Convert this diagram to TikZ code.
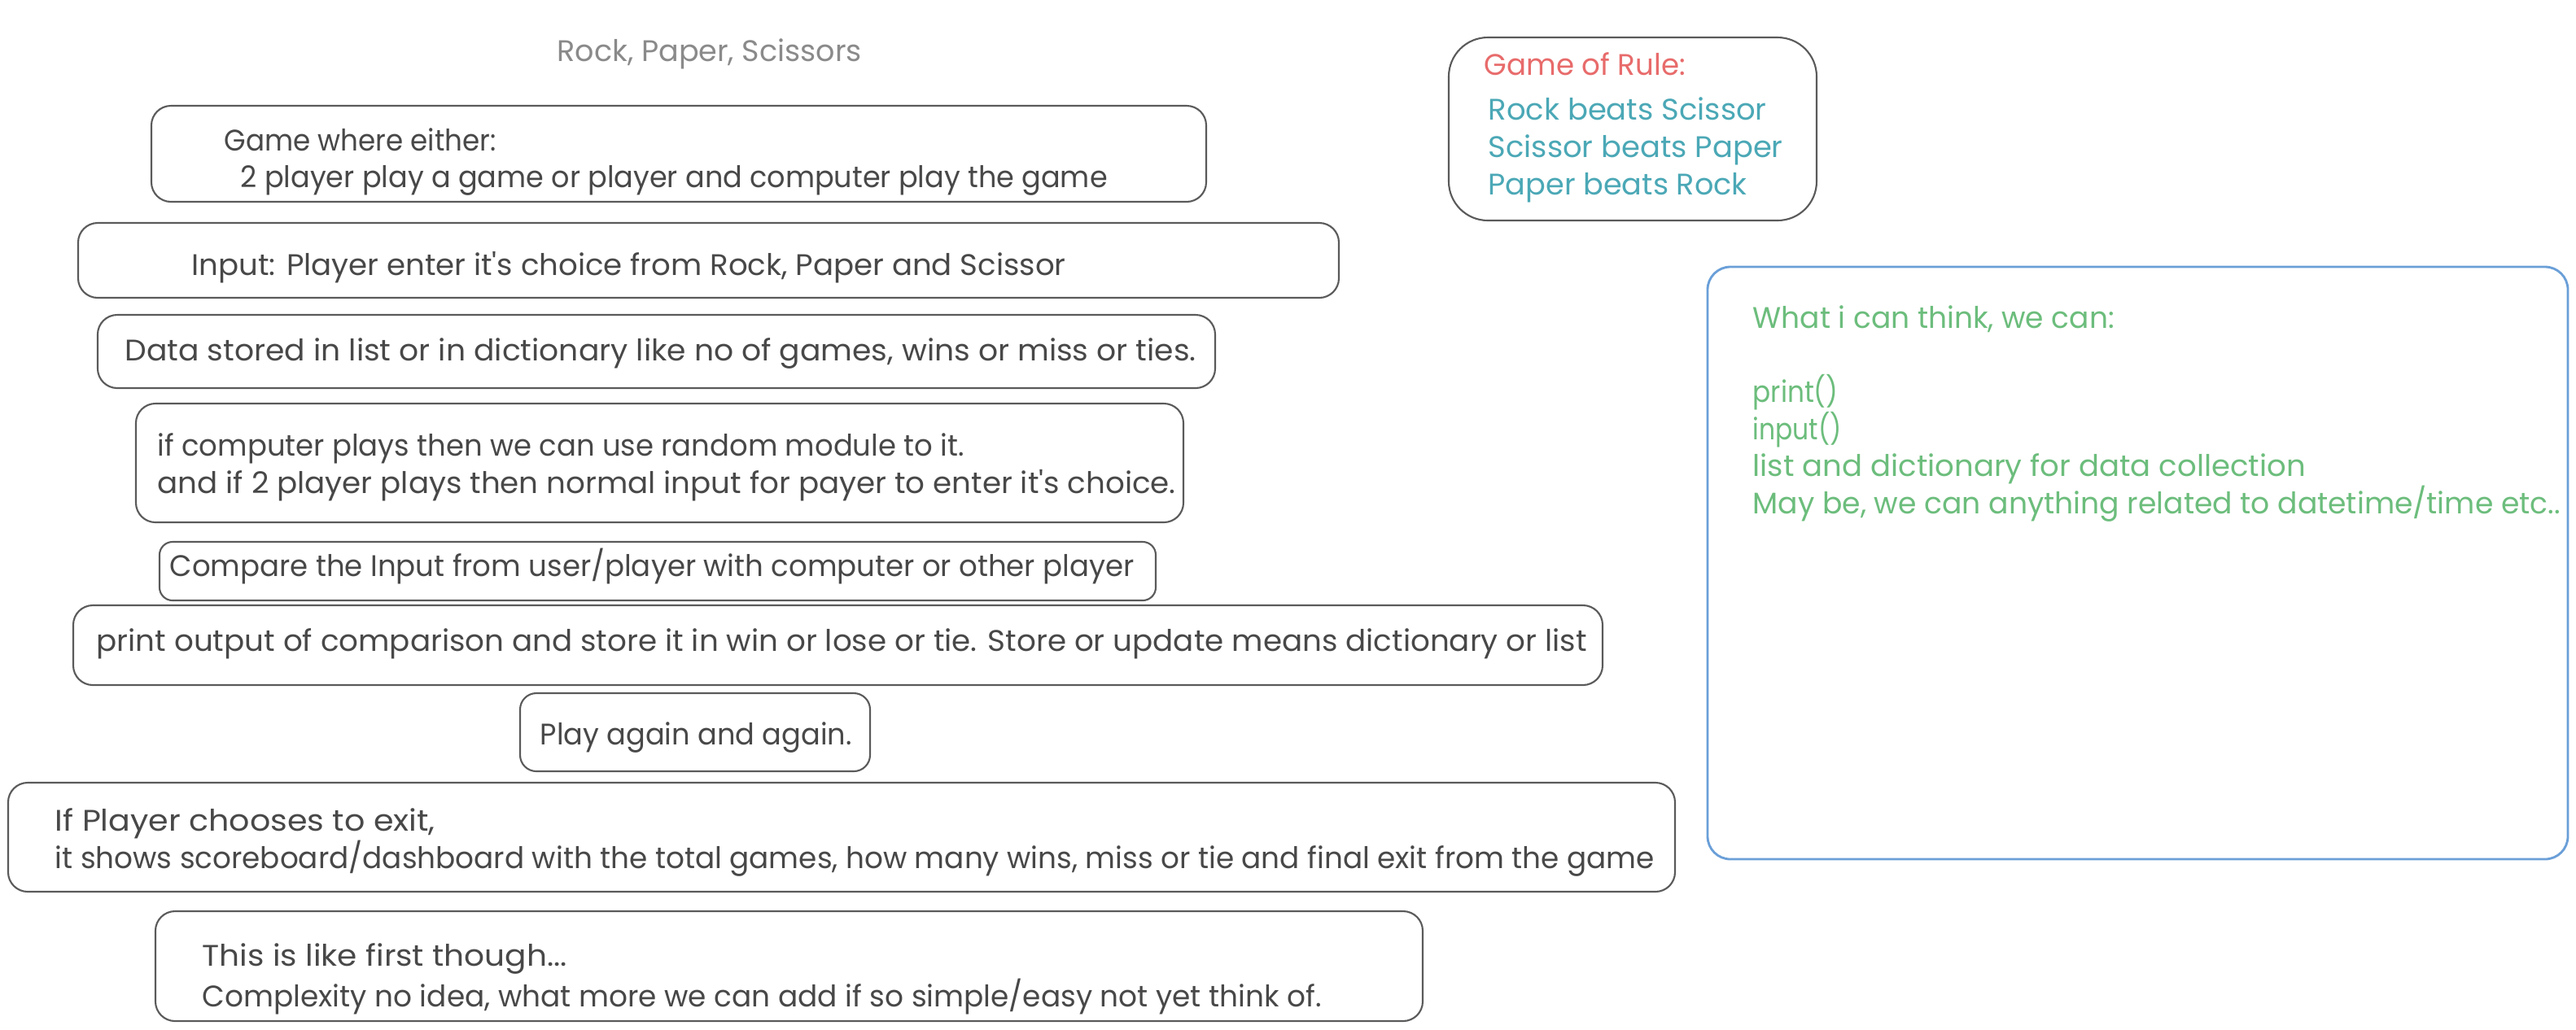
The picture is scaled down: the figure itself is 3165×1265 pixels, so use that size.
\documentclass[tikz,border=0pt]{standalone}
\usepackage{fontspec}
\setmainfont{Poppins}
\usetikzlibrary{fit}
\definecolor{ink}{HTML}{484848}
\definecolor{boxc}{HTML}{5A5A5A}
\definecolor{titlec}{HTML}{8A8A8A}
\definecolor{redc}{HTML}{E86B6B}
\definecolor{tealc}{HTML}{4BA8B6}
\definecolor{greenc}{HTML}{6CBD7C}
\definecolor{bluec}{HTML}{6A9FD8}
\newcommand{\apos}{\textquotesingle}
\newlength{\pxu}
\setlength{\pxu}{0.01cm}
\newcommand{\fw}[2]{\resizebox{#1\pxu}{\height}{#2}}
\begin{document}
\begin{tikzpicture}[x=0.01cm,y=-0.01cm,
  box/.style={draw=boxc, line width=0.6pt, inner sep=0pt, rounded corners=#1},
  box/.default=0.24cm,
  txt/.style={inner sep=0pt, anchor=base west, text=ink, font=\fontsize{10.4pt}{12pt}\selectfont},
  ttl/.style={txt, text=titlec},
  rule/.style={txt, text=redc},
  beat/.style={txt, text=tealc},
  idea/.style={txt, text=greenc}]
\fill[white] (0,0) rectangle (3165,1265);
\useasboundingbox (0,0) rectangle (3165,1265);

% title
\node[ttl] (title) at (684,75) {\fw{374}{Rock, Paper, Scissors}};

% boxes
\node[box, fit={(186,130) (1482,248)}] (b1) {};
\node[txt] (t1a) at (275,185) {\fw{334}{Game where either:}};
\node[txt] (t1b) at (295,230) {\fw{1065}{2 player play a game or player and computer play the game}};

\node[box, fit={(96,274) (1645,366)}] (b2) {};
\node[txt] (t2) at (235,338) {\fw{1074}{Input: Player enter it\apos s choice from Rock, Paper and Scissor}};

\node[box, fit={(120,387) (1493,477)}] (b3) {};
\node[txt] (t3) at (153,443) {\fw{1316}{Data stored in list or in dictionary like no of games, wins or miss or ties.}};

\node[box, fit={(167,496) (1454,642)}] (b4) {};
\node[txt] (t4a) at (193,560) {\fw{991}{if computer plays then we can use random module to it.}};
\node[txt] (t4b) at (193,606) {\fw{1251}{and if 2 player plays then normal input for payer to enter it\apos s choice.}};

\node[box=0.16cm, fit={(196,666) (1420,738)}] (b5) {};
\node[txt] (t5) at (208,708) {\fw{1185}{Compare the Input from user/player with computer or other player}};

\node[box, fit={(90,744) (1969,842)}] (b6) {};
\node[txt] (t6) at (118,800) {\fw{1831}{print output of comparison and store it in win or lose or tie. Store or update means dictionary or list}};

\node[box=0.2cm, fit={(639,852) (1069,948)}] (b7) {};
\node[txt] (t7) at (663,915) {\fw{383}{Play again and again.}};

\node[box, fit={(10,962) (2058,1096)}] (b8) {};
\node[txt] (t8a) at (67,1021) {\fw{467}{If Player chooses to exit,}};
\node[txt] (t8b) at (67,1067) {\fw{1965}{it shows scoreboard/dashboard with the total games, how many wins, miss or tie and final exit from the game}};

\node[box, fit={(191,1120) (1748,1255)}] (b9) {};
\node[txt] (t9a) at (248,1187) {\fw{448}{This is like first though...}};
\node[txt] (t9b) at (248,1237) {\fw{1375}{Complexity no idea, what more we can add if so simple/easy not yet think of.}};

% rules box
\node[box=0.48cm, fit={(1780,46) (2232,271)}] (rules) {};
\node[rule] (r0) at (1823,92) {\fw{247}{Game of Rule:}};
\node[beat] (r1) at (1828,147) {\fw{342}{Rock beats Scissor}};
\node[beat] (r2) at (1828,193) {\fw{362}{Scissor beats Paper}};
\node[beat] (r3) at (1828,239) {\fw{318}{Paper beats Rock}};

% ideas box
\node[box=0.28cm, draw=bluec, line width=0.8pt, fit={(2098,328) (3155,1056)}] (ideas) {};
\node[idea] (i0) at (2153,403) {\fw{444}{What i can think, we can:}};
\node[idea] (i1) at (2153,494) {\fw{105}{print()}};
\node[idea] (i2) at (2153,540) {\fw{109}{input()}};
\node[idea] (i3) at (2153,585) {\fw{679}{list and dictionary for data collection}};
\node[idea] (i4) at (2153,631) {\fw{992}{May be, we can anything related to datetime/time etc..}};
\end{tikzpicture}
\end{document}
